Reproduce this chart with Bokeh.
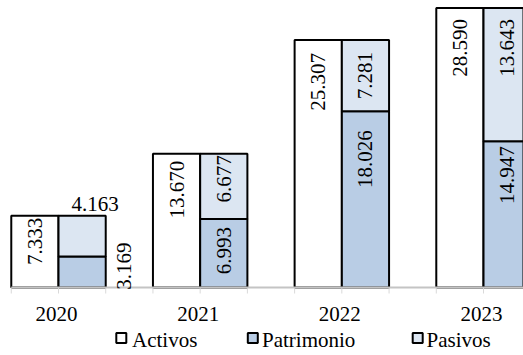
import numpy as np
from bokeh.plotting import figure
from bokeh.models import ColumnDataSource
from bokeh.core.properties import value
from bokeh.embed import file_html
from bokeh.resources import INLINE

# ---- data ----
years = ["2020", "2021", "2022", "2023"]
activos = [7.333, 13.670, 25.307, 28.590]
patrimonio = [3.169, 6.993, 18.026, 14.947]
pasivos = [4.163, 6.677, 7.281, 13.643]
series_names = ["Activos", "Patrimonio", "Pasivos"]

# ---- style / layout ----
FONT = "Liberation Serif"
FS = "21px"
C_ACT = "#ffffff"
C_PAT = "#b9cde5"
C_PAS = "#dce6f2"
W, H = 523, 355
PX = 141.67          # pixels per category
PY = 9.78            # pixels per data unit
BASE_X = 58          # page x of first category centre
BASE_Y = 287         # page y of the zero line
X0, X1 = -BASE_X / PX, (W - BASE_X) / PX
Y0, Y1 = -(H - BASE_Y) / PY, BASE_Y / PY
BW = 1 / 3

def dx(px):  # page x -> data x
    return (px - BASE_X) / PX

def dy(py):  # page y -> data y
    return (BASE_Y - py) / PY

xc = np.arange(len(years), dtype=float)
act = np.array(activos)
pat = np.array(patrimonio)
pas = np.array(pasivos)
pat_top = pat + pas

p = figure(width=W, height=H, x_range=(X0, X1), y_range=(Y0, Y1),
           output_backend="svg", toolbar_location=None,
           x_axis_location=None, y_axis_location=None, min_border=0)
p.outline_line_color = None
p.xgrid.visible = False
p.ygrid.visible = False
p.background_fill_color = "white"
p.border_fill_color = "white"

src = ColumnDataSource(dict(x_a=xc - BW / 2, x_s=xc + BW / 2,
                            act=act, pat=pat, pat_top=pat_top))
p.vbar(x="x_a", width=BW, bottom=0, top="act", source=src,
       fill_color=C_ACT, line_color="black", line_width=2)
p.vbar(x="x_s", width=BW, bottom=0, top="pat", source=src,
       fill_color=C_PAT, line_color="black", line_width=2)
p.vbar(x="x_s", width=BW, bottom="pat", top="pat_top", source=src,
       fill_color=C_PAS, line_color="black", line_width=2)

# ---- category axis drawn by hand ----
tick_x = [c + d for c in xc for d in (-BW, 0, BW)]
p.segment(x0=tick_x, y0=[0] * len(tick_x), x1=tick_x,
          y1=[-6 / PY] * len(tick_x), line_color="#d9d9d9", line_width=1)
p.segment(x0=[-BW], y0=[0], x1=[X1], y1=[0], line_color="#c4c4c4", line_width=2)
p.text(x=xc - 2 / PX, y=[dy(313)] * len(years), text=years,
       text_align="center", text_baseline="alphabetic",
       text_font=value(FONT), text_font_size=value(FS), text_color="black")

# ---- data labels ----
fmt = lambda v: f"{v:.3f}"
act_pad = [2, 7, 13, 11]
pat_pad = [None, 8, 19, 5]
pas_pad = [None, 1.5, 12, 11]

rx, ry, rt = [], [], []
for i in range(len(years)):
    rx.append(xc[i] - BW / 2); ry.append(act[i] - act_pad[i] / PY); rt.append(fmt(act[i]))
    if pat_pad[i] is not None:
        rx.append(xc[i] + BW / 2); ry.append(pat[i] - pat_pad[i] / PY); rt.append(fmt(pat[i]))
    else:
        rx.append(xc[i] + BW + 18 / PX); ry.append(pat[i] + 14 / PY); rt.append(fmt(pat[i]))
    if pas_pad[i] is not None:
        rx.append(xc[i] + BW / 2); ry.append(pat_top[i] - pas_pad[i] / PY); rt.append(fmt(pas[i]))

p.text(x=rx, y=ry, text=rt, angle=np.pi / 2, text_align="right",
       text_baseline="middle", text_font=value(FONT),
       text_font_size=value(FS), text_color="black")

hx = [xc[i] + BW / 2 + 13 / PX for i in range(len(years)) if pas_pad[i] is None]
hy = [pat_top[i] + 12 / PY for i in range(len(years)) if pas_pad[i] is None]
ht = [fmt(pas[i]) for i in range(len(years)) if pas_pad[i] is None]
p.text(x=hx, y=hy, text=ht, text_align="center", text_baseline="middle",
       text_font=value(FONT), text_font_size=value(FS), text_color="black")

# ---- legend drawn by hand ----
leg_marker_px = [120.8, 252.3, 417.2]
leg_text_px = [131.5, 261.5, 426]
leg_colors = [C_ACT, C_PAT, C_PAS]
p.scatter(x=[dx(v) for v in leg_marker_px], y=[dy(337.5)] * 3, marker="square",
          size=10, fill_color=leg_colors, line_color="black", line_width=2)
p.text(x=[dx(v) for v in leg_text_px], y=[dy(339)] * 3, text=series_names,
       text_align="left", text_baseline="alphabetic",
       text_font=value(FONT), text_font_size=value(FS), text_color="black")

open("out.html", "w").write(file_html(p, INLINE))
